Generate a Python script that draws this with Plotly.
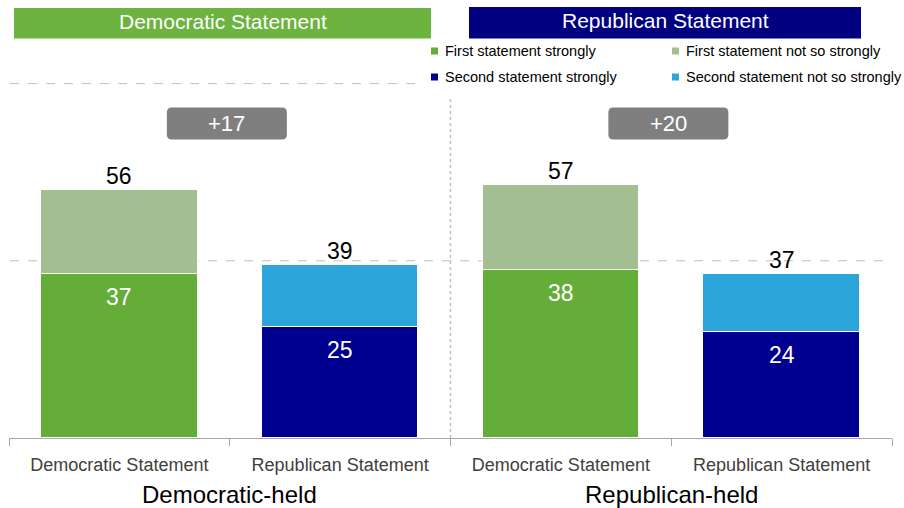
import plotly.graph_objects as go

# ---- data -------------------------------------------------------------
statements = ["Democratic Statement", "Republican Statement",
              "Democratic Statement", "Republican Statement"]
seat_groups = ["Democratic-held", "Republican-held"]
strongly = [37, 25, 38, 24]          # share agreeing strongly
total = [56, 39, 57, 37]             # total share agreeing
legend_labels = ["First statement strongly", "First statement not so strongly",
                 "Second statement strongly", "Second statement not so strongly"]
header_labels = ["Democratic Statement", "Republican Statement"]

not_so = [t - s for t, s in zip(total, strongly)]
margins = [total[0] - total[1], total[2] - total[3]]

# ---- style ------------------------------------------------------------
FONT = "Arial, Liberation Sans, sans-serif"
GREEN, LIGHT_GREEN = "#63AD38", "#A3BE90"
NAVY, LIGHT_BLUE = "#000090", "#2CA5DB"
GRID = "#BFBFBF"
AXIS = "#A6A6A6"

strong_colors = [GREEN, NAVY, GREEN, NAVY]
soft_colors = [LIGHT_GREEN, LIGHT_BLUE, LIGHT_GREEN, LIGHT_BLUE]

W, H = 904, 508
ML, MR, MT, MB = 9, 12, 40, 70
PX_PER_UNIT = 4.43
YMAX = (H - MT - MB) / PX_PER_UNIT


def px_x(px):
    return (px - ML) / (W - ML - MR)


def px_y(py):
    return (H - MB - py) / (H - MT - MB)


xs = list(range(len(statements)))

fig = go.Figure()
fig.add_bar(x=xs, y=strongly, marker=dict(color=strong_colors, line=dict(color="white", width=1)),
            width=0.71, showlegend=False, hoverinfo="skip")
fig.add_bar(x=xs, y=not_so, base=strongly,
            marker=dict(color=soft_colors, line=dict(color="white", width=1)),
            width=0.71, showlegend=False, hoverinfo="skip")

shapes = []
annotations = []

# dashed gridlines (upper one stops short of the legend)
shapes.append(dict(type="line", xref="paper", yref="y", x0=px_x(10), x1=1, y0=40, y1=40,
                   line=dict(color=GRID, width=1, dash="dash"), layer="below"))
shapes.append(dict(type="line", xref="paper", yref="y", x0=px_x(10), x1=px_x(416), y0=80, y1=80,
                   line=dict(color=GRID, width=1, dash="dash"), layer="below"))
# dotted separator between the two seat groups
shapes.append(dict(type="line", xref="x", yref="y", x0=1.5, x1=1.5, y0=0, y1=76.5,
                   line=dict(color=GRID, width=1.5, dash="dot"), layer="below"))

# value labels
for i in xs:
    annotations.append(dict(x=i, y=total[i], xref="x", yref="y", text=str(total[i]),
                            showarrow=False, yshift=14, font=dict(family=FONT, size=23, color="black")))
    annotations.append(dict(x=i, y=strongly[i], xref="x", yref="y", text=str(strongly[i]),
                            showarrow=False, yshift=-23, font=dict(family=FONT, size=23, color="white")))

# margin badges
rr = ("M -55,-16 L 55,-16 Q 60,-16 60,-11 L 60,11 Q 60,16 55,16 L -55,16 "
      "Q -60,16 -60,11 L -60,-11 Q -60,-16 -55,-16 Z")
for g, m in enumerate(margins):
    cx = 2 * g + 0.5
    shapes.append(dict(type="path", xref="x", yref="y", xsizemode="pixel", ysizemode="pixel",
                       xanchor=cx - 0.013, yanchor=71, path=rr, fillcolor="#7F7F7F", line=dict(width=0)))
    annotations.append(dict(x=cx - 0.013, y=71, xref="x", yref="y", text=f"+{m}", showarrow=False,
                            xanchor="center", font=dict(family=FONT, size=22, color="white")))

# group labels under the axis
for g, name in enumerate(seat_groups):
    annotations.append(dict(x=2 * g + 0.5, y=px_y(494), xref="x", yref="paper", text=name,
                            showarrow=False, xanchor="center", yanchor="middle",
                            font=dict(family=FONT, size=24, color="black")))

# header banners
banners = [(14, 431, 8, 38.5, "#6CB33F"), (469, 861, 7, 38.5, "#000080")]
for (x0, x1, y0, y1, col), label in zip(banners, header_labels):
    shapes.append(dict(type="rect", xref="paper", yref="paper", x0=px_x(x0), x1=px_x(x1),
                       y0=px_y(y1), y1=px_y(y0), fillcolor=col, line=dict(width=0)))
    annotations.append(dict(x=px_x((x0 + x1) / 2), y=px_y((y0 + y1) / 2 - 2), xref="paper", yref="paper",
                            text=label, showarrow=False, xanchor="center", yanchor="middle",
                            font=dict(family=FONT, size=21, color="white")))

# legend, two columns
legend_colors = [GREEN, LIGHT_GREEN, NAVY, LIGHT_BLUE]
legend_pos = [(431, 51), (672, 51), (431, 77), (672, 77)]
for (mx, my), label, col in zip(legend_pos, legend_labels, legend_colors):
    shapes.append(dict(type="rect", xref="paper", yref="paper", x0=px_x(mx), x1=px_x(mx + 7),
                       y0=px_y(my + 3.5), y1=px_y(my - 3.5), fillcolor=col, line=dict(width=0)))
    annotations.append(dict(x=px_x(mx + 12), y=px_y(my), xref="paper", yref="paper", text=label,
                            showarrow=False, xanchor="left", yanchor="middle",
                            font=dict(family=FONT, size=14.5, color="black")))

fig.update_layout(
    width=W, height=H,
    margin=dict(l=ML, r=MR, t=MT, b=MB, pad=0),
    paper_bgcolor="white", plot_bgcolor="white",
    barmode="overlay", bargap=0,
    shapes=shapes, annotations=annotations,
    font=dict(family=FONT),
    showlegend=False,
)
fig.update_xaxes(
    range=[-0.5, 3.5], tickvals=xs, ticktext=statements, ticks="",
    tickfont=dict(family=FONT, size=18, color="#404040"), ticklabelstandoff=10,
    showline=True, linecolor=AXIS, linewidth=1, showgrid=False, zeroline=False,
    minor=dict(tickvals=[-0.5, 0.5, 1.5, 2.5, 3.5], ticks="outside", ticklen=7,
               tickcolor=AXIS, tickwidth=1, showgrid=False),
)
fig.update_yaxes(range=[0, YMAX], visible=False, showgrid=False, zeroline=False)

fig.write_html("out.html")
